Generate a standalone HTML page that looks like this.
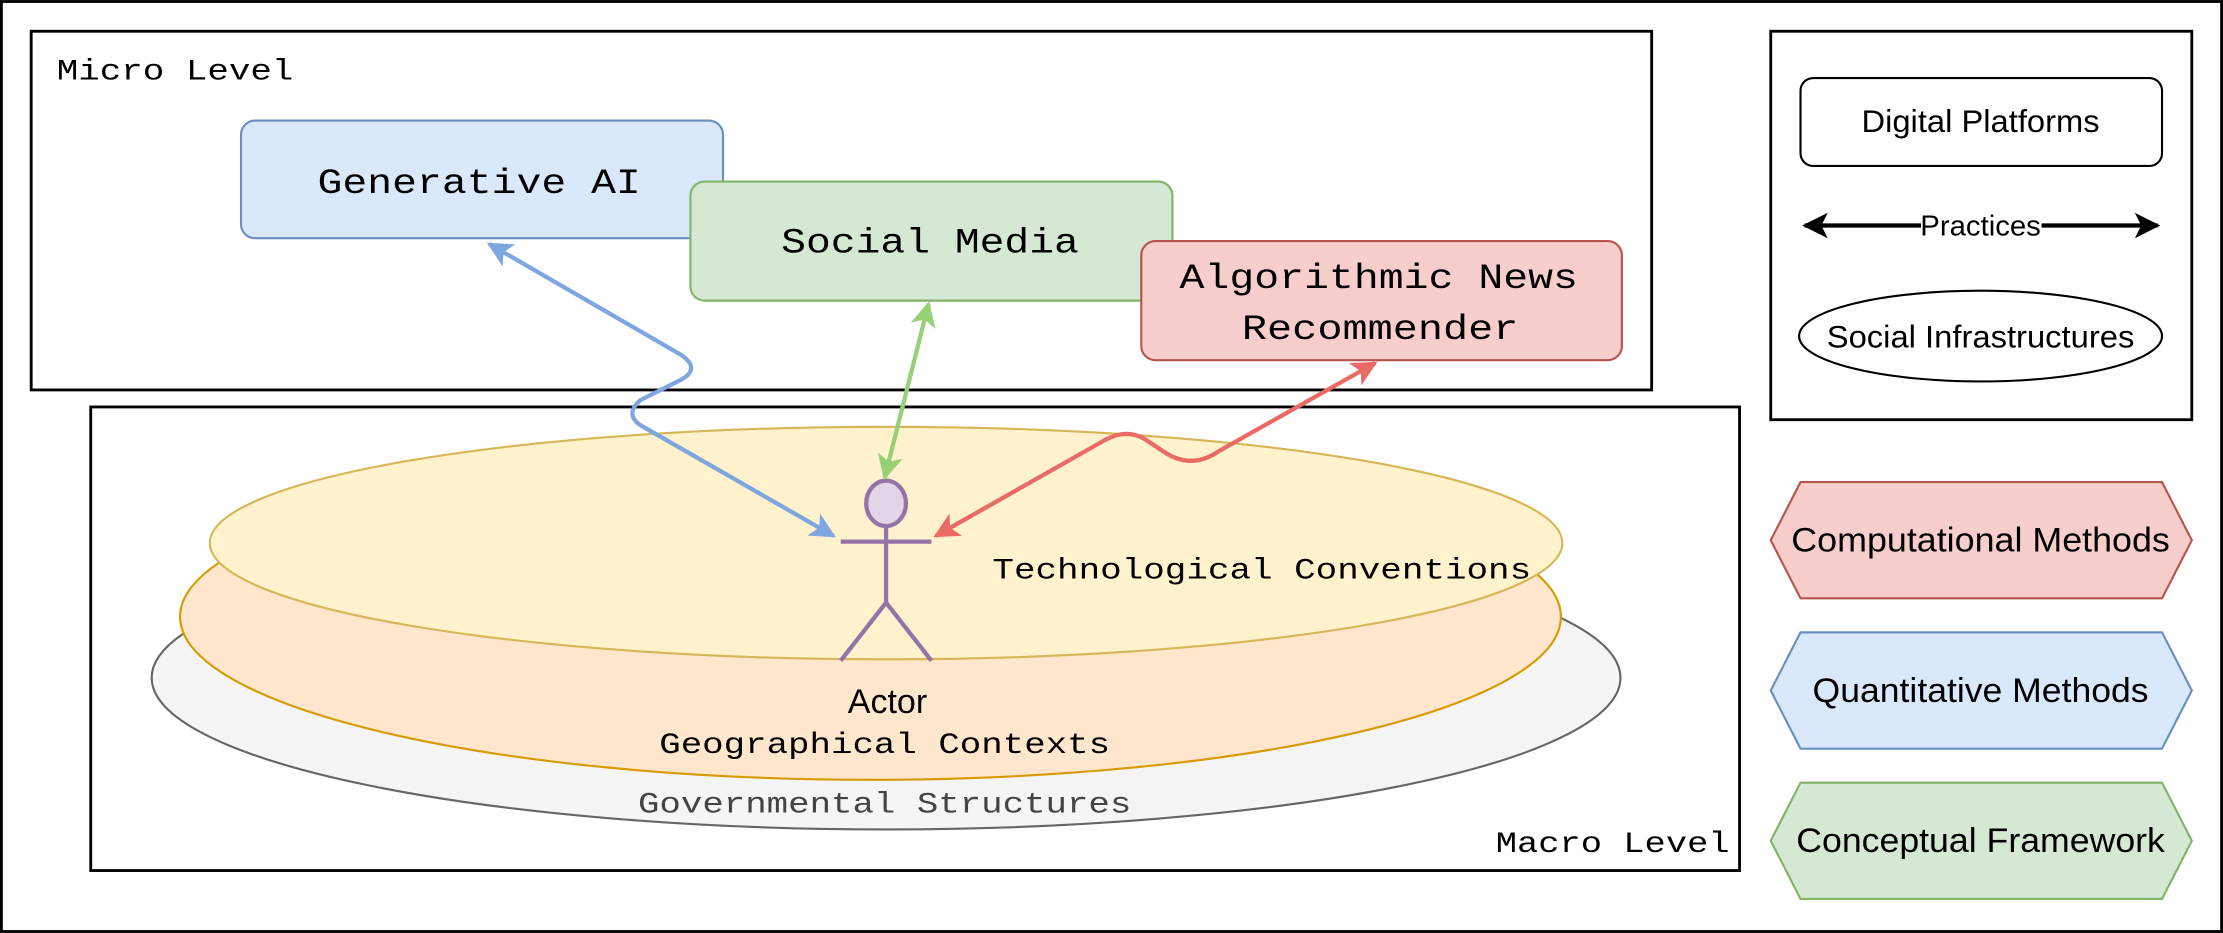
<!DOCTYPE html>
<html><head><meta charset="utf-8"><style>
html,body{margin:0;padding:0;background:#fff;}
svg{display:block;}
.m{font-family:"Liberation Mono",monospace;}
.s{font-family:"Liberation Sans",sans-serif;}
</style></head><body>
<svg width="2223" height="933" viewBox="0 0 1568 658" xmlns="http://www.w3.org/2000/svg">
<defs>
<marker id="ab" viewBox="0 0 10 10" refX="9" refY="5" markerWidth="6" markerHeight="6" orient="auto-start-reverse"><path d="M0,0 L10,5 L0,10 L2.5,5 z" fill="#7ea6e0"/></marker>
<marker id="ag" viewBox="0 0 10 10" refX="9" refY="5" markerWidth="6" markerHeight="6" orient="auto-start-reverse"><path d="M0,0 L10,5 L0,10 L2.5,5 z" fill="#97d077"/></marker>
<marker id="ar" viewBox="0 0 10 10" refX="9" refY="5" markerWidth="6" markerHeight="6" orient="auto-start-reverse"><path d="M0,0 L10,5 L0,10 L2.5,5 z" fill="#ea6b66"/></marker>
<marker id="ak" viewBox="0 0 10 10" refX="9" refY="5" markerWidth="6" markerHeight="6" orient="auto-start-reverse"><path d="M0,0 L10,5 L0,10 L2.5,5 z" fill="#000"/></marker>
</defs>
<rect x="1" y="1" width="1566" height="656" fill="#fff" stroke="#000" stroke-width="2"/>
<rect x="22" y="22" width="1143" height="253" fill="#fff" stroke="#000" stroke-width="2"/>
<text x="40" y="56" class="m" font-size="21" textLength="167" lengthAdjust="spacingAndGlyphs">Micro Level</text>
<rect x="64" y="287" width="1163" height="327" fill="#fff" stroke="#000" stroke-width="2"/>
<text x="1055" y="601" class="m" font-size="21" textLength="165" lengthAdjust="spacingAndGlyphs">Macro Level</text>

<ellipse cx="625" cy="478" rx="518" ry="107" fill="#f5f5f5" stroke="#666" stroke-width="1.5"/>
<ellipse cx="614" cy="435" rx="487" ry="115" fill="#ffe6cc" stroke="#d79b00" stroke-width="1.5"/>
<ellipse cx="625" cy="383" rx="477" ry="82" fill="#fff2cc" stroke="#d6b656" stroke-width="1.5"/>
<text x="700" y="408" class="m" font-size="21" textLength="380" lengthAdjust="spacingAndGlyphs">Technological Conventions</text>
<text x="465" y="531" class="m" font-size="21" textLength="318" lengthAdjust="spacingAndGlyphs">Geographical Contexts</text>
<text x="450" y="573" class="m" font-size="21" textLength="348" lengthAdjust="spacingAndGlyphs" fill="#444">Governmental Structures</text>

<rect x="170" y="85" width="340" height="83" rx="10" fill="#dae8fc" stroke="#6c8ebf" stroke-width="1.5"/>
<text x="224" y="136" class="m" font-size="25" textLength="228" lengthAdjust="spacingAndGlyphs">Generative AI</text>
<rect x="487" y="128" width="340" height="84" rx="10" fill="#d5e8d4" stroke="#82b366" stroke-width="1.5"/>
<text x="551" y="178" class="m" font-size="25" textLength="210" lengthAdjust="spacingAndGlyphs">Social Media</text>
<rect x="805" y="170" width="339" height="84" rx="10" fill="#f8cecc" stroke="#b85450" stroke-width="1.5"/>
<text x="832" y="203" class="m" font-size="25" textLength="281" lengthAdjust="spacingAndGlyphs">Algorithmic News</text>
<text x="876" y="239" class="m" font-size="25" textLength="195" lengthAdjust="spacingAndGlyphs">Recommender</text>

<g stroke="#9673a6" stroke-width="3" fill="none">
<line x1="625" y1="371" x2="625" y2="425"/>
<line x1="593" y1="382" x2="657" y2="382"/>
<line x1="625" y1="425" x2="593" y2="466"/>
<line x1="625" y1="425" x2="657" y2="466"/>
</g>
<ellipse cx="625" cy="355" rx="14" ry="16" fill="#e1d5e7" stroke="#9673a6" stroke-width="3"/>
<text x="626" y="503" class="s" font-size="24" text-anchor="middle">Actor</text>

<path d="M345,172 L480,250 Q495,260 480,268 L452,282 Q440,292 452,300 L588,378" fill="none" stroke="#7ea6e0" stroke-width="3" marker-start="url(#ab)" marker-end="url(#ab)"/>
<path d="M655,214 L624,337" fill="none" stroke="#97d077" stroke-width="3" marker-start="url(#ag)" marker-end="url(#ag)"/>
<path d="M970,256 L860,318 Q840,332 820,318 L808,310 Q795,302 780,310 L660,378" fill="none" stroke="#ea6b66" stroke-width="3" marker-start="url(#ar)" marker-end="url(#ar)"/>

<rect x="1249" y="22" width="297" height="274" fill="#fff" stroke="#000" stroke-width="2"/>
<rect x="1270" y="55" width="255" height="62" rx="9" fill="#fff" stroke="#000" stroke-width="1.5"/>
<text x="1397" y="93" class="s" font-size="22" text-anchor="middle" textLength="168" lengthAdjust="spacingAndGlyphs">Digital Platforms</text>
<line x1="1273" y1="159" x2="1522" y2="159" stroke="#000" stroke-width="3" marker-start="url(#ak)" marker-end="url(#ak)"/>
<rect x="1355" y="149" width="85" height="20" fill="#fff"/>
<text x="1397" y="166" class="s" font-size="20" text-anchor="middle" textLength="85" lengthAdjust="spacingAndGlyphs">Practices</text>
<ellipse cx="1397" cy="237" rx="128" ry="32" fill="#fff" stroke="#000" stroke-width="1.5"/>
<text x="1397" y="245" class="s" font-size="22" text-anchor="middle" textLength="217" lengthAdjust="spacingAndGlyphs">Social Infrastructures</text>

<polygon points="1249,381 1270,340 1525,340 1546,381 1525,422 1270,422" fill="#f8cecc" stroke="#b85450" stroke-width="1.5"/>
<text x="1397" y="389" class="s" font-size="24" text-anchor="middle" textLength="267" lengthAdjust="spacingAndGlyphs">Computational Methods</text>
<polygon points="1249,487 1270,446 1525,446 1546,487 1525,528 1270,528" fill="#dae8fc" stroke="#6c8ebf" stroke-width="1.5"/>
<text x="1397" y="495" class="s" font-size="24" text-anchor="middle" textLength="237" lengthAdjust="spacingAndGlyphs">Quantitative Methods</text>
<polygon points="1249,593 1270,552 1525,552 1546,593 1525,634 1270,634" fill="#d5e8d4" stroke="#82b366" stroke-width="1.5"/>
<text x="1397" y="601" class="s" font-size="24" text-anchor="middle" textLength="260" lengthAdjust="spacingAndGlyphs">Conceptual Framework</text>
</svg>
</body></html>
